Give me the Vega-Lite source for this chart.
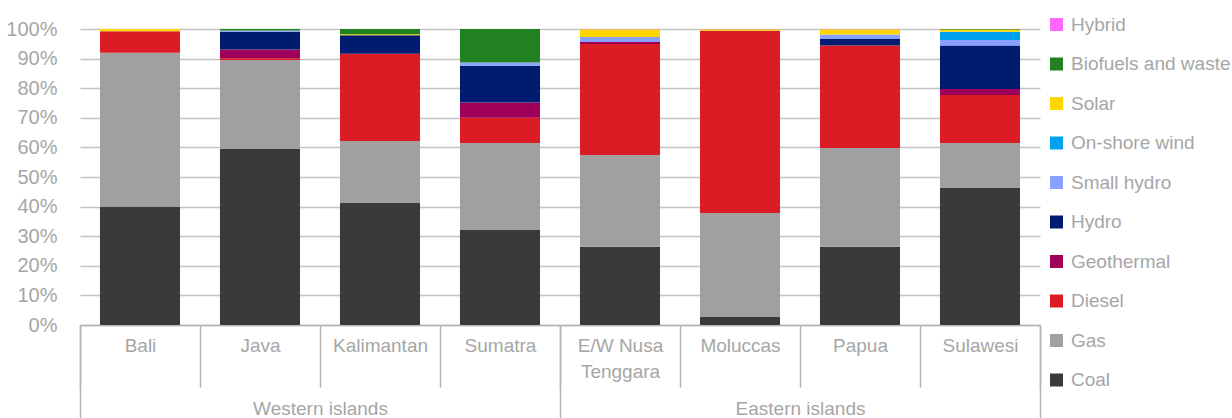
{
  "$schema": "https://vega.github.io/schema/vega-lite/v6.json",
  "autosize": {"type": "none"},
  "width": 960,
  "height": 296,
  "padding": {"left": 80, "top": 29, "right": 192, "bottom": 93},
  "config": {
    "view": {"stroke": null},
    "font": "Liberation Sans, Arial, sans-serif",
    "axis": {"labelFont": "Liberation Sans, Arial, sans-serif", "labelColor": "#A6A6A6", "labelFontSize": 19},
    "legend": {"labelFont": "Liberation Sans, Arial, sans-serif"}
  },
  "datasets": {
    "gen": [
      {"region": "Bali", "source": "Coal", "share": 40.0},
      {"region": "Bali", "source": "Gas", "share": 52.0},
      {"region": "Bali", "source": "Diesel", "share": 7.2},
      {"region": "Bali", "source": "Solar", "share": 0.8},
      {"region": "Java", "source": "Coal", "share": 59.5},
      {"region": "Java", "source": "Gas", "share": 30.0},
      {"region": "Java", "source": "Diesel", "share": 0.6},
      {"region": "Java", "source": "Geothermal", "share": 3.0},
      {"region": "Java", "source": "Hydro", "share": 6.0},
      {"region": "Java", "source": "Small hydro", "share": 0.4},
      {"region": "Java", "source": "Biofuels and waste", "share": 0.5},
      {"region": "Kalimantan", "source": "Coal", "share": 41.2},
      {"region": "Kalimantan", "source": "Gas", "share": 21.0},
      {"region": "Kalimantan", "source": "Diesel", "share": 29.4},
      {"region": "Kalimantan", "source": "Hydro", "share": 6.3},
      {"region": "Kalimantan", "source": "Solar", "share": 0.3},
      {"region": "Kalimantan", "source": "Biofuels and waste", "share": 1.8},
      {"region": "Sumatra", "source": "Coal", "share": 32.1},
      {"region": "Sumatra", "source": "Gas", "share": 29.4},
      {"region": "Sumatra", "source": "Diesel", "share": 8.5},
      {"region": "Sumatra", "source": "Geothermal", "share": 5.2},
      {"region": "Sumatra", "source": "Hydro", "share": 12.4},
      {"region": "Sumatra", "source": "Small hydro", "share": 1.1},
      {"region": "Sumatra", "source": "Biofuels and waste", "share": 11.3},
      {"region": "E/W Nusa Tenggara", "source": "Coal", "share": 26.4},
      {"region": "E/W Nusa Tenggara", "source": "Gas", "share": 31.0},
      {"region": "E/W Nusa Tenggara", "source": "Diesel", "share": 37.5},
      {"region": "E/W Nusa Tenggara", "source": "Geothermal", "share": 0.7},
      {"region": "E/W Nusa Tenggara", "source": "Small hydro", "share": 1.7},
      {"region": "E/W Nusa Tenggara", "source": "Solar", "share": 2.6},
      {"region": "E/W Nusa Tenggara", "source": "Hybrid", "share": 0.1},
      {"region": "Moluccas", "source": "Coal", "share": 2.7},
      {"region": "Moluccas", "source": "Gas", "share": 35.1},
      {"region": "Moluccas", "source": "Diesel", "share": 61.6},
      {"region": "Moluccas", "source": "Solar", "share": 0.5},
      {"region": "Moluccas", "source": "Hybrid", "share": 0.1},
      {"region": "Papua", "source": "Coal", "share": 26.4},
      {"region": "Papua", "source": "Gas", "share": 33.4},
      {"region": "Papua", "source": "Diesel", "share": 34.6},
      {"region": "Papua", "source": "Hydro", "share": 2.2},
      {"region": "Papua", "source": "Small hydro", "share": 1.5},
      {"region": "Papua", "source": "Solar", "share": 1.8},
      {"region": "Papua", "source": "Hybrid", "share": 0.1},
      {"region": "Sulawesi", "source": "Coal", "share": 46.3},
      {"region": "Sulawesi", "source": "Gas", "share": 15.2},
      {"region": "Sulawesi", "source": "Diesel", "share": 16.2},
      {"region": "Sulawesi", "source": "Geothermal", "share": 2.0},
      {"region": "Sulawesi", "source": "Hydro", "share": 14.7},
      {"region": "Sulawesi", "source": "Small hydro", "share": 1.9},
      {"region": "Sulawesi", "source": "On-shore wind", "share": 2.8},
      {"region": "Sulawesi", "source": "Solar", "share": 0.7},
      {"region": "Sulawesi", "source": "Biofuels and waste", "share": 0.2}
    ],
    "groups": [
      {"group": "Western islands"},
      {"group": "Eastern islands"}
    ]
  },
  "layer": [
    {
      "data": {"name": "gen"},
      "transform": [
        {"calculate": "indexof(['Coal','Gas','Diesel','Geothermal','Hydro','Small hydro','On-shore wind','Solar','Biofuels and waste','Hybrid'], datum.source)", "as": "stackIdx"}
      ],
      "mark": {"type": "bar", "width": {"band": 0.667}},
      "encoding": {
        "x": {
          "field": "region", "type": "nominal",
          "sort": ["Bali", "Java", "Kalimantan", "Sumatra", "E/W Nusa Tenggara", "Moluccas", "Papua", "Sulawesi"],
          "scale": {"paddingInner": 0, "paddingOuter": 0},
          "axis": {
            "orient": "bottom",
            "title": null,
            "labelAngle": 0,
            "labelExpr": "datum.label == 'E/W Nusa Tenggara' ? ['E/W Nusa', 'Tenggara'] : datum.label",
            "labelLineHeight": 26,
            "labelPadding": -51,
            "labelBaseline": "top",
            "tickBand": "extent",
            "tickSize": 62,
            "tickColor": "#B4B4B4",
            "tickWidth": 1.5,
            "domainColor": "#B4B4B4",
            "domainWidth": 1.5,
            "grid": false
          }
        },
        "y": {
          "field": "share", "type": "quantitative", "stack": "zero",
          "scale": {"domain": [0, 100], "nice": false},
          "axis": {
            "title": null,
            "values": [0, 10, 20, 30, 40, 50, 60, 70, 80, 90, 100],
            "labelExpr": "datum.value + '%'",
            "domain": false,
            "ticks": false,
            "labelPadding": 23,
            "labelFontSize": 20,
            "gridColor": "#C4C4C4",
            "gridWidth": 1.5
          }
        },
        "color": {
          "field": "source", "type": "nominal",
          "scale": {
            "domain": ["Hybrid", "Biofuels and waste", "Solar", "On-shore wind", "Small hydro", "Hydro", "Geothermal", "Diesel", "Gas", "Coal"],
            "range": ["#FF66FF", "#21801F", "#FFD700", "#00A2F0", "#88A0FF", "#001C70", "#A0005A", "#DC1C24", "#A0A0A0", "#3A3A3A"]
          },
          "legend": {
            "title": null,
            "orient": "none",
            "legendX": 967,
            "legendY": -14,
            "symbolType": "square",
            "symbolSize": 169,
            "symbolStrokeWidth": 0,
            "labelFontSize": 19,
            "labelColor": "#A6A6A6",
            "labelOffset": 5,
            "labelLimit": 300,
            "rowPadding": 19.5,
            "padding": 0
          }
        },
        "order": {"field": "stackIdx", "type": "quantitative", "sort": "ascending"}
      }
    },
    {
      "data": {"name": "groups"},
      "mark": {"type": "bar", "opacity": 0},
      "encoding": {
        "x": {
          "field": "group", "type": "nominal",
          "sort": ["Western islands", "Eastern islands"],
          "scale": {"paddingInner": 0, "paddingOuter": 0},
          "axis": {
            "orient": "bottom",
            "title": null,
            "labelAngle": 0,
            "domain": false,
            "tickBand": "extent",
            "tickSize": 100,
            "tickColor": "#B4B4B4",
            "tickWidth": 1.5,
            "labelPadding": -26,
            "labelBaseline": "top",
            "grid": false
          }
        }
      }
    }
  ],
  "resolve": {"scale": {"x": "independent"}, "axis": {"x": "independent"}}
}
